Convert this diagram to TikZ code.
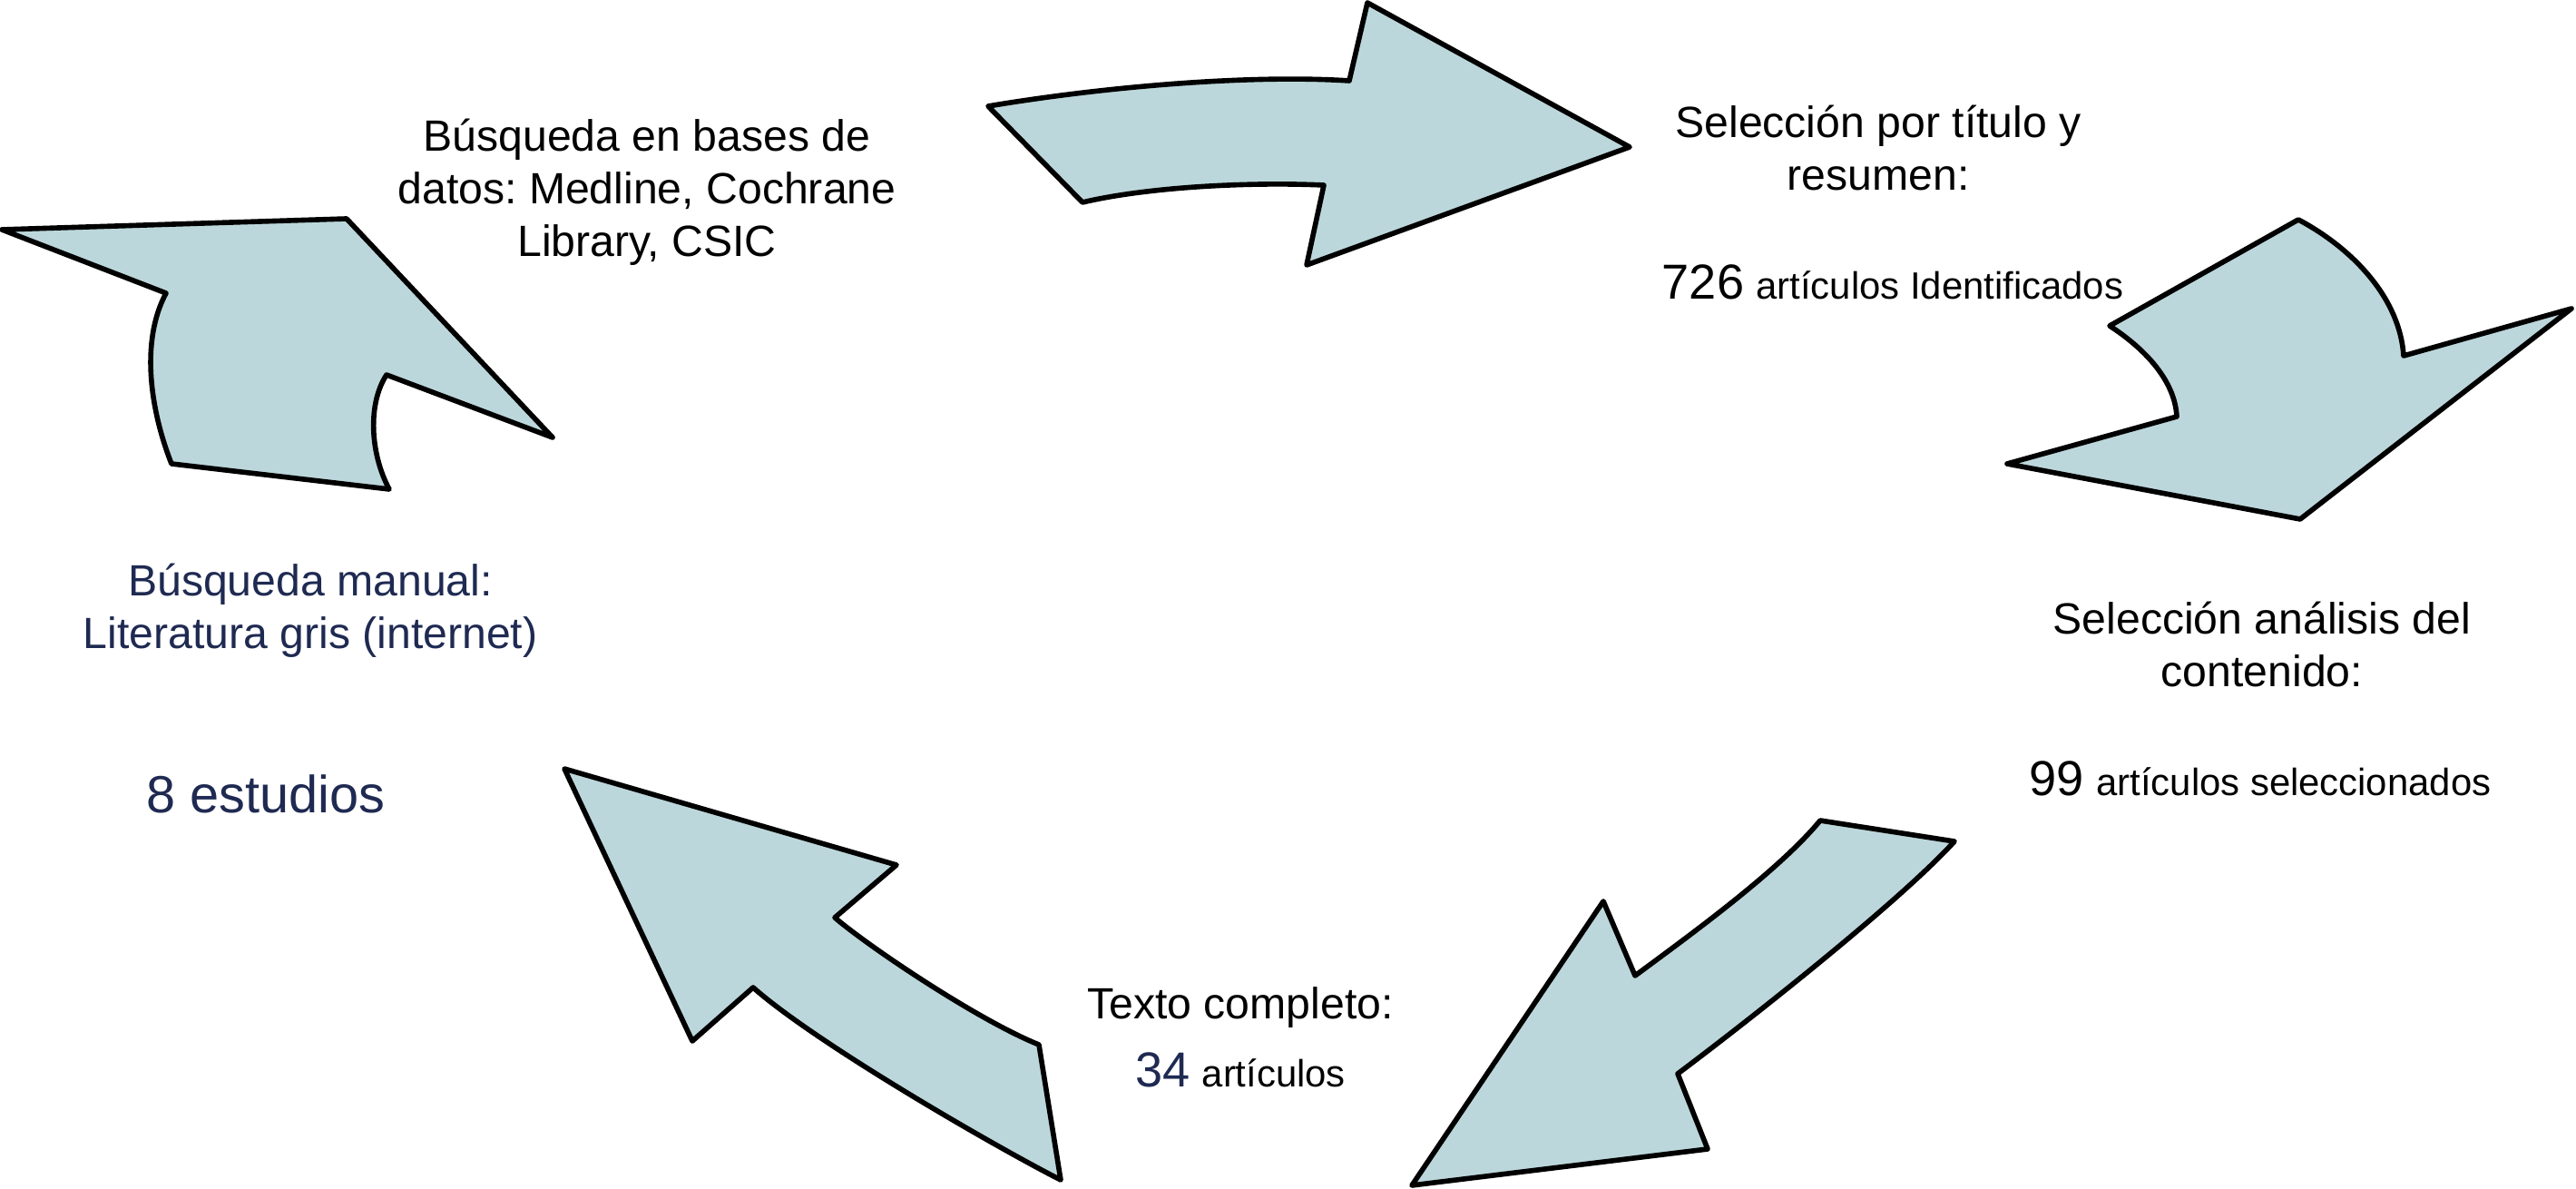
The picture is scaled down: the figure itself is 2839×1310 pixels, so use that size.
\documentclass[tikz,border=0pt]{standalone}
\usepackage{fontspec}
\setmainfont{Liberation Sans}
\frenchspacing
\definecolor{arrowfill}{RGB}{188,215,219}
\definecolor{navy}{RGB}{31,42,82}
\tikzset{
  bigarrow/.style={draw=black, fill=arrowfill, line width=1.6pt, line join=round},
  lbl/.style={inner sep=0pt, align=center, font=\fontsize{13.7}{16.5}\selectfont}
}
\newcommand{\bignum}[1]{{\fontsize{15.4}{18}\selectfont #1}}
\newcommand{\smtxt}[1]{{\fontsize{11.9}{14}\selectfont #1}}
\begin{document}
\begin{tikzpicture}[x=0.01cm,y=-0.01cm]
\useasboundingbox (0,0) rectangle (2839,1310);
\fill[white] (0,0) rectangle (2839,1310);

% Arrow 1 (top, pointing right)
\draw[bigarrow] (1089,117) .. controls (1220,95) and (1380,82) .. (1487,89)
  -- (1507,3) -- (1796,162) -- (1440,292) -- (1459,204)
  .. controls (1370,200) and (1260,207) .. (1193,223) -- cycle;

% Arrow 2 (top right, pointing down-left)
\draw[bigarrow] (2533,242) .. controls (2595,275) and (2645,330) .. (2649,392)
  -- (2834,340) -- (2535,572) -- (2212,511) -- (2399,459)
  .. controls (2397,420) and (2365,385) .. (2325,359) -- cycle;

% Arrow 3 (bottom right, pointing down-left)
\draw[bigarrow] (2006,904) -- (2154,927)
  .. controls (2094,993) and (1929,1123) .. (1849,1183)
  -- (1882,1266) -- (1556,1306) -- (1767,993) -- (1802,1075)
  .. controls (1860,1032) and (1960,960) .. cycle;

% Arrow 4 (bottom left, pointing up-left)
\draw[bigarrow] (622,847) -- (988,953) -- (920,1011)
  .. controls (960,1045) and (1080,1125) .. (1145,1151)
  -- (1169,1300)
  .. controls (1100,1265) and (900,1150) .. (830,1088)
  -- (763,1147) -- cycle;

% Arrow 5 (left, pointing up-right)
\draw[bigarrow] (2,253) -- (382,241) -- (609,482) -- (426,413)
  .. controls (405,445) and (408,500) .. (429,539)
  -- (189,511)
  .. controls (165,450) and (155,375) .. (183,323) -- cycle;

% Texts
\node[lbl] (busq) at (713,212) {Búsqueda en bases de\\datos: Medline, Cochrane\\Library, CSIC};
\node[lbl] (seltit) at (2070,163) {Selección por título y\\resumen:};
\node[lbl] (n726) at (2086,311) {\bignum{726} \smtxt{artículos Identificados}};
\node[lbl] (selan) at (2493,710) {Selección análisis del\\contenido:};
\node[lbl] (n99) at (2491,858) {\bignum{99} \smtxt{artículos seleccionados}};
\node[lbl] (texto) at (1367,1110) {Texto completo:};
\node[lbl] (n34) at (1367,1179) {\textcolor{navy}{\bignum{34}} \smtxt{artículos}};
\node[lbl, text=navy] (manual) at (342,673) {Búsqueda manual:\\Literatura gris (internet)};
\node[lbl, text=navy, font=\fontsize{16.4}{19}\selectfont] (n8) at (293,875) {8 estudios};
\end{tikzpicture}
\end{document}
